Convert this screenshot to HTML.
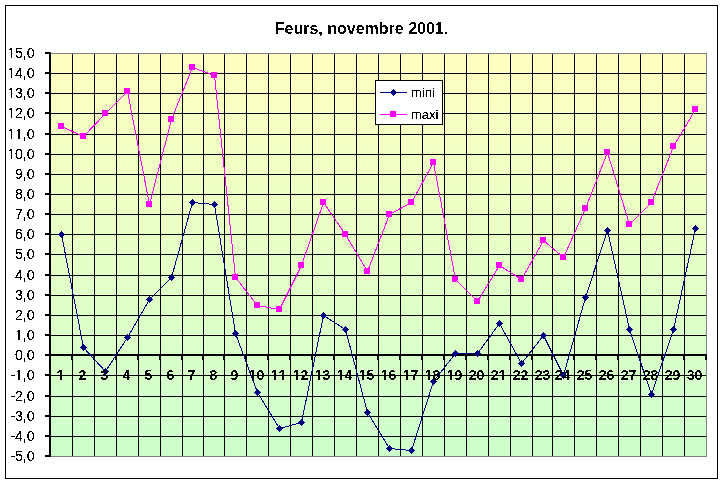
<!DOCTYPE html>
<html><head><meta charset="utf-8"><style>
html,body{margin:0;padding:0;background:#fff;width:724px;height:484px;overflow:hidden}
svg{display:block;will-change:transform}
text{font-family:"Liberation Sans",sans-serif;fill:#000;font-kerning:none}
</style></head><body>
<svg width="724" height="484" viewBox="0 0 724 484">
<defs><filter id="cr" x="0" y="0" width="724" height="484" filterUnits="userSpaceOnUse"><feComponentTransfer><feFuncA type="discrete" tableValues="0 0 1 1 1"/></feComponentTransfer></filter><filter id="cy" x="0" y="0" width="724" height="484" filterUnits="userSpaceOnUse"><feComponentTransfer><feFuncA type="discrete" tableValues="0 0 0 0 1 1 1 1 1"/></feComponentTransfer></filter><filter id="cb" x="0" y="0" width="724" height="484" filterUnits="userSpaceOnUse"><feComponentTransfer><feFuncA type="discrete" tableValues="0 0 1 1"/></feComponentTransfer></filter><mask id="nf" maskUnits="userSpaceOnUse" x="0" y="0" width="724" height="484"><rect width="724" height="484" fill="#fff"/><path shape-rendering="crispEdges" fill="#000" d="M8 57h1v1h-1zM9 57h1v1h-1zM10 57h1v1h-1zM12 57h1v1h-1zM13 57h1v1h-1zM8 77h1v1h-1zM9 77h1v1h-1zM10 77h1v1h-1zM12 77h1v1h-1zM13 77h1v1h-1zM8 97h1v1h-1zM9 97h1v1h-1zM10 97h1v1h-1zM12 97h1v1h-1zM13 97h1v1h-1zM8 117h1v1h-1zM9 117h1v1h-1zM10 117h1v1h-1zM12 117h1v1h-1zM13 117h1v1h-1zM8 138h1v1h-1zM9 138h1v1h-1zM10 138h1v1h-1zM12 138h1v1h-1zM13 138h1v1h-1zM16 138h1v1h-1zM17 138h1v1h-1zM20 138h1v1h-1zM21 138h1v1h-1zM8 158h1v1h-1zM9 158h1v1h-1zM10 158h1v1h-1zM12 158h1v1h-1zM13 158h1v1h-1zM16 339h1v1h-1zM17 339h1v1h-1zM20 339h1v1h-1zM21 339h1v1h-1zM16 379h1v1h-1zM17 379h1v1h-1zM20 379h1v1h-1zM21 379h1v1h-1zM59 378h1v1h-1zM57 379h1v1h-1zM58 379h1v1h-1zM59 379h1v1h-1zM62 379h1v1h-1zM63 379h1v1h-1zM250 379h1v1h-1zM251 379h1v1h-1zM254 379h1v1h-1zM255 379h1v1h-1zM272 379h1v1h-1zM273 379h1v1h-1zM276 379h1v1h-1zM277 379h1v1h-1zM281 378h1v1h-1zM279 379h1v1h-1zM280 379h1v1h-1zM281 379h1v1h-1zM284 379h1v1h-1zM285 379h1v1h-1zM294 379h1v1h-1zM295 379h1v1h-1zM298 379h1v1h-1zM299 379h1v1h-1zM316 379h1v1h-1zM317 379h1v1h-1zM320 379h1v1h-1zM321 379h1v1h-1zM338 379h1v1h-1zM339 379h1v1h-1zM342 379h1v1h-1zM343 379h1v1h-1zM360 379h1v1h-1zM361 379h1v1h-1zM364 379h1v1h-1zM365 379h1v1h-1zM382 379h1v1h-1zM383 379h1v1h-1zM386 379h1v1h-1zM387 379h1v1h-1zM404 379h1v1h-1zM405 379h1v1h-1zM408 379h1v1h-1zM409 379h1v1h-1zM426 379h1v1h-1zM427 379h1v1h-1zM430 379h1v1h-1zM431 379h1v1h-1zM448 379h1v1h-1zM449 379h1v1h-1zM452 379h1v1h-1zM453 379h1v1h-1zM501 378h1v1h-1zM499 379h1v1h-1zM500 379h1v1h-1zM501 379h1v1h-1zM504 379h1v1h-1zM505 379h1v1h-1z"/></mask><linearGradient id="g" x1="0" y1="0" x2="0" y2="1"><stop offset="0" stop-color="#FFFFC0"/><stop offset="1" stop-color="#CCFFCC"/></linearGradient></defs>
<rect x="0" y="0" width="724" height="484" fill="#fff"/>
<rect x="5.5" y="5.5" width="712" height="473" fill="none" stroke="#000" stroke-width="1" shape-rendering="crispEdges"/>
<g filter="url(#cb)"><text x="361.5" y="34" font-size="16" font-weight="bold" text-anchor="middle">Feurs, novembre 2001.</text></g>
<rect x="50" y="53" width="657" height="404" fill="url(#g)"/>
<rect x="50.5" y="53.5" width="656" height="403" fill="none" stroke="#808080" stroke-width="1" shape-rendering="crispEdges"/>
<g shape-rendering="crispEdges" fill="#000">
<rect x="51" y="73" width="655" height="1"/>
<rect x="51" y="93" width="655" height="1"/>
<rect x="51" y="113" width="655" height="1"/>
<rect x="51" y="134" width="655" height="1"/>
<rect x="51" y="154" width="655" height="1"/>
<rect x="51" y="174" width="655" height="1"/>
<rect x="51" y="194" width="655" height="1"/>
<rect x="51" y="214" width="655" height="1"/>
<rect x="51" y="234" width="655" height="1"/>
<rect x="51" y="254" width="655" height="1"/>
<rect x="51" y="275" width="655" height="1"/>
<rect x="51" y="295" width="655" height="1"/>
<rect x="51" y="315" width="655" height="1"/>
<rect x="51" y="335" width="655" height="1"/>
<rect x="51" y="375" width="655" height="1"/>
<rect x="51" y="396" width="655" height="1"/>
<rect x="51" y="416" width="655" height="1"/>
<rect x="51" y="436" width="655" height="1"/>
<rect x="72" y="54" width="1" height="402"/>
<rect x="94" y="54" width="1" height="402"/>
<rect x="116" y="54" width="1" height="402"/>
<rect x="138" y="54" width="1" height="402"/>
<rect x="160" y="54" width="1" height="402"/>
<rect x="182" y="54" width="1" height="402"/>
<rect x="203" y="54" width="1" height="402"/>
<rect x="224" y="54" width="1" height="402"/>
<rect x="246" y="54" width="1" height="402"/>
<rect x="268" y="54" width="1" height="402"/>
<rect x="290" y="54" width="1" height="402"/>
<rect x="312" y="54" width="1" height="402"/>
<rect x="334" y="54" width="1" height="402"/>
<rect x="356" y="54" width="1" height="402"/>
<rect x="378" y="54" width="1" height="402"/>
<rect x="400" y="54" width="1" height="402"/>
<rect x="422" y="54" width="1" height="402"/>
<rect x="444" y="54" width="1" height="402"/>
<rect x="466" y="54" width="1" height="402"/>
<rect x="488" y="54" width="1" height="402"/>
<rect x="510" y="54" width="1" height="402"/>
<rect x="532" y="54" width="1" height="402"/>
<rect x="552" y="54" width="1" height="402"/>
<rect x="574" y="54" width="1" height="402"/>
<rect x="596" y="54" width="1" height="402"/>
<rect x="618" y="54" width="1" height="402"/>
<rect x="640" y="54" width="1" height="402"/>
<rect x="662" y="54" width="1" height="402"/>
<rect x="684" y="54" width="1" height="402"/>
<rect x="49" y="52" width="2" height="405"/>
<rect x="45" y="52" width="4" height="2"/>
<rect x="45" y="72" width="4" height="2"/>
<rect x="45" y="92" width="4" height="2"/>
<rect x="45" y="112" width="4" height="2"/>
<rect x="45" y="133" width="4" height="2"/>
<rect x="45" y="153" width="4" height="2"/>
<rect x="45" y="173" width="4" height="2"/>
<rect x="45" y="193" width="4" height="2"/>
<rect x="45" y="213" width="4" height="2"/>
<rect x="45" y="233" width="4" height="2"/>
<rect x="45" y="253" width="4" height="2"/>
<rect x="45" y="274" width="4" height="2"/>
<rect x="45" y="294" width="4" height="2"/>
<rect x="45" y="314" width="4" height="2"/>
<rect x="45" y="334" width="4" height="2"/>
<rect x="45" y="354" width="4" height="2"/>
<rect x="45" y="374" width="4" height="2"/>
<rect x="45" y="395" width="4" height="2"/>
<rect x="45" y="415" width="4" height="2"/>
<rect x="45" y="435" width="4" height="2"/>
<rect x="45" y="455" width="4" height="2"/>
<rect x="49" y="354" width="658" height="2"/>
<rect x="71" y="356" width="2" height="4"/>
<rect x="93" y="356" width="2" height="4"/>
<rect x="115" y="356" width="2" height="4"/>
<rect x="137" y="356" width="2" height="4"/>
<rect x="159" y="356" width="2" height="4"/>
<rect x="181" y="356" width="2" height="4"/>
<rect x="202" y="356" width="2" height="4"/>
<rect x="223" y="356" width="2" height="4"/>
<rect x="245" y="356" width="2" height="4"/>
<rect x="267" y="356" width="2" height="4"/>
<rect x="289" y="356" width="2" height="4"/>
<rect x="311" y="356" width="2" height="4"/>
<rect x="333" y="356" width="2" height="4"/>
<rect x="355" y="356" width="2" height="4"/>
<rect x="377" y="356" width="2" height="4"/>
<rect x="399" y="356" width="2" height="4"/>
<rect x="421" y="356" width="2" height="4"/>
<rect x="443" y="356" width="2" height="4"/>
<rect x="465" y="356" width="2" height="4"/>
<rect x="487" y="356" width="2" height="4"/>
<rect x="509" y="356" width="2" height="4"/>
<rect x="531" y="356" width="2" height="4"/>
<rect x="551" y="356" width="2" height="4"/>
<rect x="573" y="356" width="2" height="4"/>
<rect x="595" y="356" width="2" height="4"/>
<rect x="617" y="356" width="2" height="4"/>
<rect x="639" y="356" width="2" height="4"/>
<rect x="661" y="356" width="2" height="4"/>
<rect x="683" y="356" width="2" height="4"/>
<rect x="705" y="356" width="2" height="4"/>
</g>
<g filter="url(#cr)" mask="url(#nf)">
<text x="34.5" y="58" font-size="14" text-anchor="end">15,0</text>
<text x="34.5" y="78" font-size="14" text-anchor="end">14,0</text>
<text x="34.5" y="98" font-size="14" text-anchor="end">13,0</text>
<text x="34.5" y="118" font-size="14" text-anchor="end">12,0</text>
<text x="34.5" y="139" font-size="14" text-anchor="end">11,0</text>
<text x="34.5" y="159" font-size="14" text-anchor="end">10,0</text>
<text x="34.5" y="179" font-size="14" text-anchor="end">9,0</text>
<text x="34.5" y="199" font-size="14" text-anchor="end">8,0</text>
<text x="34.5" y="219" font-size="14" text-anchor="end">7,0</text>
<text x="34.5" y="239" font-size="14" text-anchor="end">6,0</text>
<text x="34.5" y="259" font-size="14" text-anchor="end">5,0</text>
<text x="34.5" y="280" font-size="14" text-anchor="end">4,0</text>
<text x="34.5" y="300" font-size="14" text-anchor="end">3,0</text>
<text x="34.5" y="320" font-size="14" text-anchor="end">2,0</text>
<text x="34.5" y="340" font-size="14" text-anchor="end">1,0</text>
<text x="34.5" y="360" font-size="14" text-anchor="end">0,0</text>
<text x="34.5" y="380" font-size="14" text-anchor="end">-1,0</text>
<text x="34.5" y="401" font-size="14" text-anchor="end">-2,0</text>
<text x="34.5" y="421" font-size="14" text-anchor="end">-3,0</text>
<text x="34.5" y="441" font-size="14" text-anchor="end">-4,0</text>
<text x="34.5" y="461" font-size="14" text-anchor="end">-5,0</text>
</g>
<polyline points="61.5,126.5 83.5,136.5 105.5,113.5 127.5,91.5 149.5,204.5 171.5,119.5 192.5,67.5 214.5,75.5 235.5,277.5 257.5,305.5 279.5,309.5 301.5,265.5 323.5,202.5 345.5,234.5 367.5,271.5 389.5,214.5 411.5,202.5 433.5,162.5 455.5,279.5 477.5,301.5 499.5,265.5 521.5,279.5 543.5,240.5 563.5,257.5 585.5,208.5 607.5,152.5 629.5,224.5 651.5,202.5 673.5,146.5 695.5,109.5" fill="none" stroke="#FF00FF" stroke-width="1" shape-rendering="crispEdges"/>
<polyline points="61.5,234.5 83.5,347.5 105.5,371.5 127.5,337.5 149.5,299.5 171.5,277.5 192.5,202.5 214.5,204.5 235.5,333.5 257.5,392.5 279.5,428.5 301.5,422.5 323.5,315.5 345.5,329.5 367.5,412.5 389.5,448.5 411.5,450.5 433.5,381.5 455.5,353.5 477.5,353.5 499.5,323.5 521.5,363.5 543.5,335.5 563.5,375.5 585.5,297.5 607.5,230.5 629.5,329.5 651.5,394.5 673.5,329.5 695.5,228.5" fill="none" stroke="#000080" stroke-width="1" shape-rendering="crispEdges"/>
<g shape-rendering="crispEdges">
<rect x="58" y="123" width="6" height="6" fill="#FF00FF"/>
<rect x="80" y="133" width="6" height="6" fill="#FF00FF"/>
<rect x="102" y="110" width="6" height="6" fill="#FF00FF"/>
<rect x="124" y="88" width="6" height="6" fill="#FF00FF"/>
<rect x="146" y="201" width="6" height="6" fill="#FF00FF"/>
<rect x="168" y="116" width="6" height="6" fill="#FF00FF"/>
<rect x="189" y="64" width="6" height="6" fill="#FF00FF"/>
<rect x="211" y="72" width="6" height="6" fill="#FF00FF"/>
<rect x="232" y="274" width="6" height="6" fill="#FF00FF"/>
<rect x="254" y="302" width="6" height="6" fill="#FF00FF"/>
<rect x="276" y="306" width="6" height="6" fill="#FF00FF"/>
<rect x="298" y="262" width="6" height="6" fill="#FF00FF"/>
<rect x="320" y="199" width="6" height="6" fill="#FF00FF"/>
<rect x="342" y="231" width="6" height="6" fill="#FF00FF"/>
<rect x="364" y="268" width="6" height="6" fill="#FF00FF"/>
<rect x="386" y="211" width="6" height="6" fill="#FF00FF"/>
<rect x="408" y="199" width="6" height="6" fill="#FF00FF"/>
<rect x="430" y="159" width="6" height="6" fill="#FF00FF"/>
<rect x="452" y="276" width="6" height="6" fill="#FF00FF"/>
<rect x="474" y="298" width="6" height="6" fill="#FF00FF"/>
<rect x="496" y="262" width="6" height="6" fill="#FF00FF"/>
<rect x="518" y="276" width="6" height="6" fill="#FF00FF"/>
<rect x="540" y="237" width="6" height="6" fill="#FF00FF"/>
<rect x="560" y="254" width="6" height="6" fill="#FF00FF"/>
<rect x="582" y="205" width="6" height="6" fill="#FF00FF"/>
<rect x="604" y="149" width="6" height="6" fill="#FF00FF"/>
<rect x="626" y="221" width="6" height="6" fill="#FF00FF"/>
<rect x="648" y="199" width="6" height="6" fill="#FF00FF"/>
<rect x="670" y="143" width="6" height="6" fill="#FF00FF"/>
<rect x="692" y="106" width="6" height="6" fill="#FF00FF"/>
<polygon points="61.5,230.9 65.1,234.5 61.5,238.1 57.9,234.5" fill="#000080"/>
<polygon points="83.5,343.9 87.1,347.5 83.5,351.1 79.9,347.5" fill="#000080"/>
<polygon points="105.5,367.9 109.1,371.5 105.5,375.1 101.9,371.5" fill="#000080"/>
<polygon points="127.5,333.9 131.1,337.5 127.5,341.1 123.9,337.5" fill="#000080"/>
<polygon points="149.5,295.9 153.1,299.5 149.5,303.1 145.9,299.5" fill="#000080"/>
<polygon points="171.5,273.9 175.1,277.5 171.5,281.1 167.9,277.5" fill="#000080"/>
<polygon points="192.5,198.9 196.1,202.5 192.5,206.1 188.9,202.5" fill="#000080"/>
<polygon points="214.5,200.9 218.1,204.5 214.5,208.1 210.9,204.5" fill="#000080"/>
<polygon points="235.5,329.9 239.1,333.5 235.5,337.1 231.9,333.5" fill="#000080"/>
<polygon points="257.5,388.9 261.1,392.5 257.5,396.1 253.9,392.5" fill="#000080"/>
<polygon points="279.5,424.9 283.1,428.5 279.5,432.1 275.9,428.5" fill="#000080"/>
<polygon points="301.5,418.9 305.1,422.5 301.5,426.1 297.9,422.5" fill="#000080"/>
<polygon points="323.5,311.9 327.1,315.5 323.5,319.1 319.9,315.5" fill="#000080"/>
<polygon points="345.5,325.9 349.1,329.5 345.5,333.1 341.9,329.5" fill="#000080"/>
<polygon points="367.5,408.9 371.1,412.5 367.5,416.1 363.9,412.5" fill="#000080"/>
<polygon points="389.5,444.9 393.1,448.5 389.5,452.1 385.9,448.5" fill="#000080"/>
<polygon points="411.5,446.9 415.1,450.5 411.5,454.1 407.9,450.5" fill="#000080"/>
<polygon points="433.5,377.9 437.1,381.5 433.5,385.1 429.9,381.5" fill="#000080"/>
<polygon points="455.5,349.9 459.1,353.5 455.5,357.1 451.9,353.5" fill="#000080"/>
<polygon points="477.5,349.9 481.1,353.5 477.5,357.1 473.9,353.5" fill="#000080"/>
<polygon points="499.5,319.9 503.1,323.5 499.5,327.1 495.9,323.5" fill="#000080"/>
<polygon points="521.5,359.9 525.1,363.5 521.5,367.1 517.9,363.5" fill="#000080"/>
<polygon points="543.5,331.9 547.1,335.5 543.5,339.1 539.9,335.5" fill="#000080"/>
<polygon points="563.5,371.9 567.1,375.5 563.5,379.1 559.9,375.5" fill="#000080"/>
<polygon points="585.5,293.9 589.1,297.5 585.5,301.1 581.9,297.5" fill="#000080"/>
<polygon points="607.5,226.9 611.1,230.5 607.5,234.1 603.9,230.5" fill="#000080"/>
<polygon points="629.5,325.9 633.1,329.5 629.5,333.1 625.9,329.5" fill="#000080"/>
<polygon points="651.5,390.9 655.1,394.5 651.5,398.1 647.9,394.5" fill="#000080"/>
<polygon points="673.5,325.9 677.1,329.5 673.5,333.1 669.9,329.5" fill="#000080"/>
<polygon points="695.5,224.9 699.1,228.5 695.5,232.1 691.9,228.5" fill="#000080"/>
</g>
<g filter="url(#cb)" mask="url(#nf)">
<text x="60.50" y="380" font-size="14" font-weight="bold" text-anchor="middle">1</text>
<text x="82.50" y="380" font-size="14" font-weight="bold" text-anchor="middle">2</text>
<text x="104.50" y="380" font-size="14" font-weight="bold" text-anchor="middle">3</text>
<text x="126.50" y="380" font-size="14" font-weight="bold" text-anchor="middle">4</text>
<text x="148.50" y="380" font-size="14" font-weight="bold" text-anchor="middle">5</text>
<text x="170.50" y="380" font-size="14" font-weight="bold" text-anchor="middle">6</text>
<text x="191.50" y="380" font-size="14" font-weight="bold" text-anchor="middle">7</text>
<text x="213.50" y="380" font-size="14" font-weight="bold" text-anchor="middle">8</text>
<text x="234.50" y="380" font-size="14" font-weight="bold" text-anchor="middle">9</text>
<text x="256.50" y="380" font-size="14" font-weight="bold" text-anchor="middle">10</text>
<text x="278.50" y="380" font-size="14" font-weight="bold" text-anchor="middle">11</text>
<text x="300.50" y="380" font-size="14" font-weight="bold" text-anchor="middle">12</text>
<text x="322.50" y="380" font-size="14" font-weight="bold" text-anchor="middle">13</text>
<text x="344.50" y="380" font-size="14" font-weight="bold" text-anchor="middle">14</text>
<text x="366.50" y="380" font-size="14" font-weight="bold" text-anchor="middle">15</text>
<text x="388.50" y="380" font-size="14" font-weight="bold" text-anchor="middle">16</text>
<text x="410.50" y="380" font-size="14" font-weight="bold" text-anchor="middle">17</text>
<text x="432.50" y="380" font-size="14" font-weight="bold" text-anchor="middle">18</text>
<text x="454.50" y="380" font-size="14" font-weight="bold" text-anchor="middle">19</text>
<text x="476.50" y="380" font-size="14" font-weight="bold" text-anchor="middle">20</text>
<text x="498.50" y="380" font-size="14" font-weight="bold" text-anchor="middle">21</text>
<text x="520.50" y="380" font-size="14" font-weight="bold" text-anchor="middle">22</text>
<text x="542.50" y="380" font-size="14" font-weight="bold" text-anchor="middle">23</text>
<text x="562.50" y="380" font-size="14" font-weight="bold" text-anchor="middle">24</text>
<text x="584.50" y="380" font-size="14" font-weight="bold" text-anchor="middle">25</text>
<text x="606.50" y="380" font-size="14" font-weight="bold" text-anchor="middle">26</text>
<text x="628.50" y="380" font-size="14" font-weight="bold" text-anchor="middle">27</text>
<text x="650.50" y="380" font-size="14" font-weight="bold" text-anchor="middle">28</text>
<text x="672.50" y="380" font-size="14" font-weight="bold" text-anchor="middle">29</text>
<text x="694.50" y="380" font-size="14" font-weight="bold" text-anchor="middle">30</text>
</g>
<g shape-rendering="crispEdges">
<rect x="375.5" y="80.5" width="67" height="44" fill="#fff" stroke="#000" stroke-width="1"/>
<rect x="380" y="92" width="27" height="1" fill="#000080"/>
<rect x="393" y="89" width="1" height="7" fill="#000080"/><rect x="392" y="90" width="3" height="5" fill="#000080"/><rect x="391" y="91" width="5" height="3" fill="#000080"/>
<rect x="380" y="114" width="27" height="1" fill="#FF00FF"/>
<rect x="390" y="111" width="6" height="6" fill="#FF00FF"/>
</g>
<g filter="url(#cr)"><text x="411" y="97" font-size="13">mini</text>
<text x="411" y="119" font-size="13">maxi</text></g>

</svg></body></html>
